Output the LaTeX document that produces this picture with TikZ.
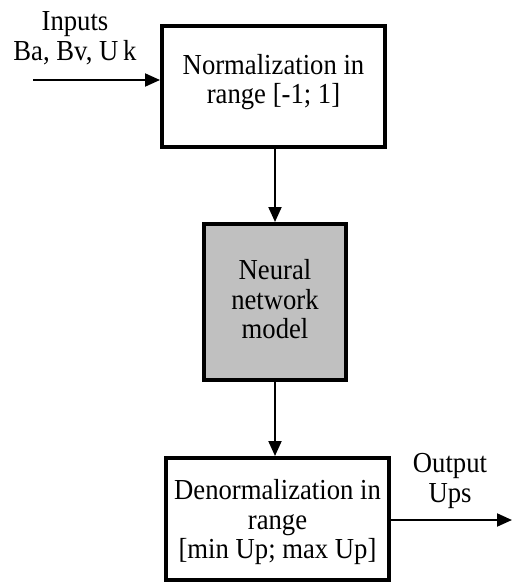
\documentclass[tikz,border=0pt]{standalone}
\usepackage{fontspec}
\setmainfont{Liberation Serif}[FakeStretch=0.92]
\usetikzlibrary{arrows.meta}
\definecolor{boxgray}{RGB}{192,192,192}
\begin{document}
\begin{tikzpicture}[x=1pt,y=-1pt,
  box/.style={draw=black,line width=4pt,rectangle,inner sep=0pt},
  txt/.style={font=\fontsize{29}{29.5}\selectfont,align=center,inner sep=0pt},
  arr/.style={line width=2pt,-{Triangle[length=15pt,width=13pt]}}]
\useasboundingbox[fill=white] (0,0) rectangle (512,583);
% boxes
\node[box,minimum width=223pt,minimum height=121pt,
  label={[txt,yshift=4.5pt]center:{Normalization in\\range {[-1; 1]}}}] (norm) at (273.5,86.5) {};
\node[box,fill=boxgray,minimum width=142pt,minimum height=156pt,
  label={[txt,yshift=2.5pt]center:{Neural\\network\\model}}] (nn) at (275,302) {};
\node[box,minimum width=223pt,minimum height=122pt,
  label={[txt,yshift=-3.5pt]center:{Denormalization in\\range\\{}{[min Up; max Up]}}}] (denorm) at (277.5,519) {};
% free labels
\node[txt] (inlbl) at (75,38) {Inputs\\Ba, Bv, U\,k};
\node[txt] (outlbl) at (450,481) {Output\\Ups};
% connectors
\coordinate (instart) at (33,80);
\coordinate (outend) at (512,520);
\draw[arr] (instart) -- (instart -| norm.west);
\draw[arr] (norm.south -| nn.north) -- (nn.north);
\draw[arr] (nn.south) -- (nn.south |- denorm.north);
\draw[arr] (denorm.east |- outend) -- (outend);
\end{tikzpicture}
\end{document}
